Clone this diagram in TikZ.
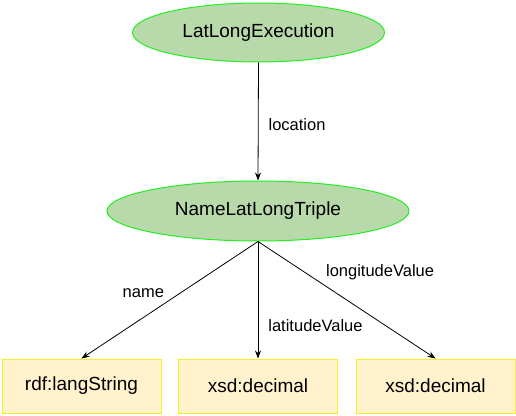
\documentclass[tikz,border=0pt]{standalone}
\usepackage{fontspec}
\setmainfont{Liberation Sans}
\usetikzlibrary{arrows.meta}
\definecolor{ellfill}{HTML}{B8D9AA}
\definecolor{elldraw}{HTML}{22EE22}
\definecolor{boxfill}{HTML}{FFF2CC}
\definecolor{boxdraw}{HTML}{F5F020}
\tikzset{
  classnode/.style={ellipse, draw=elldraw, fill=ellfill, line width=1pt, inner sep=0pt,
    font=\fontsize{19}{23}\selectfont},
  litnode/.style={rectangle, draw=boxdraw, fill=boxfill, line width=1pt, inner sep=0pt,
    minimum width=159pt, minimum height=54pt, font=\fontsize{19}{23}\selectfont},
  rel/.style={draw=black, line width=0.8pt, -{Stealth[length=8pt,width=6pt]}},
  lbl/.style={inner sep=0pt, font=\fontsize{16.5}{20}\selectfont}
}
\usetikzlibrary{shapes.geometric}
\begin{document}
\begin{tikzpicture}[x=1pt,y=-1pt]
\useasboundingbox (0,0) rectangle (516,415);
\node[classnode, minimum width=252pt, minimum height=59pt] (e1) at (258.5,32.5) {LatLongExecution};
\node[classnode, minimum width=302pt, minimum height=60pt] (e2) at (258,211) {NameLatLongTriple};
\node[litnode] (b1) at (81.5,386) {rdf:langString};
\node[litnode] (b2) at (258,386) {xsd:decimal};
\node[litnode] (b3) at (435.5,386) {xsd:decimal};
\draw[rel] (e1.south) -- node[lbl, pos=0.53, anchor=west, xshift=10pt] (l1) {location} (e2.north);
\draw[rel] (e2.south) -- node[lbl, pos=0.44, anchor=east, xshift=-16pt] (l2) {name} (b1.north);
\draw[rel] (e2.south) -- node[lbl, pos=0.72, anchor=west, xshift=10pt] (l3) {latitudeValue} (b2.north);
\draw[rel] (e2.south) -- node[lbl, pos=0.263, anchor=west, xshift=21pt] (l4) {longitudeValue} (b3.north);
\end{tikzpicture}
\end{document}
